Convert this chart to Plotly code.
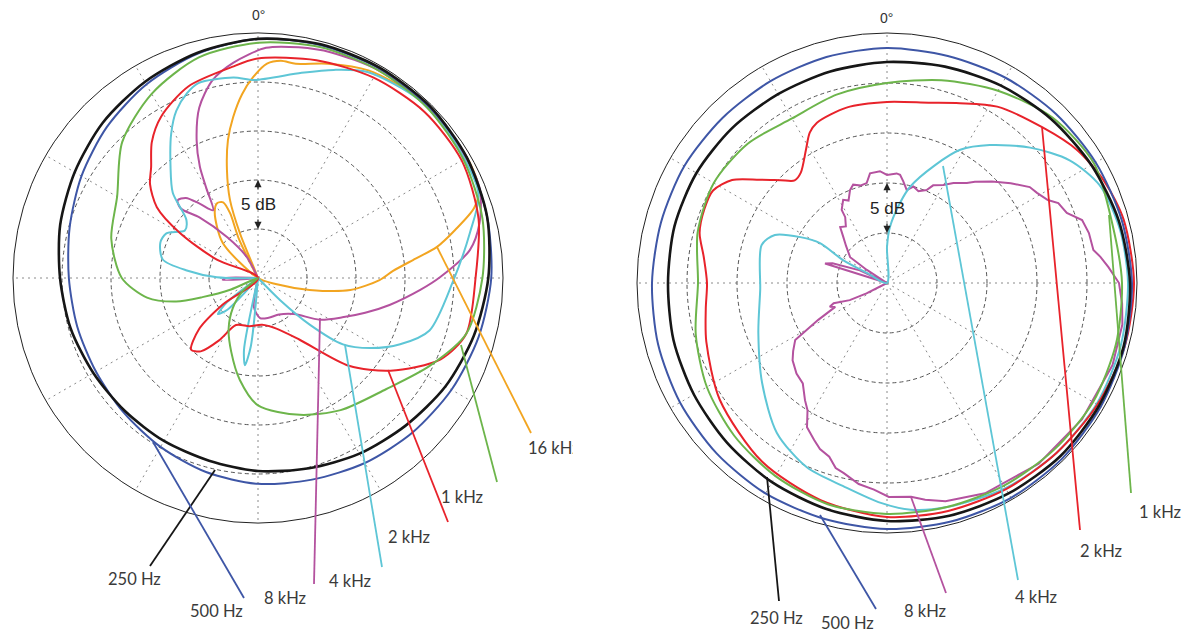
import plotly.graph_objects as go

W, H = 1201, 635

# ---------------------------------------------------------------------------
# Polar responses, in dB above the plot floor (outer ring = 25 dB, rings every 5 dB)
# ---------------------------------------------------------------------------
ANG15 = [0, 15, 30, 45, 60, 75, 90, 105, 120, 135, 150, 165,
         180, 195, 210, 225, 240, 255, 270, 285, 300, 315, 330, 345]

# --- left microphone ---
left_250_r = [24.4, 24.7, 24.8, 24.8, 24.6, 24.2, 23.5, 22.8, 22.1, 21.3, 20.7, 20.1,
              19.7, 19.3, 19.2, 19.2, 19.4, 19.8, 20.2, 20.9, 21.6, 22.4, 23.1, 23.8]
left_500_r = [24.4, 24.6, 24.7, 24.7, 24.6, 24.2, 23.8, 23.3, 22.8, 22.3, 21.8, 21.3,
              21.0, 20.5, 19.9, 19.4, 19.1, 19.1, 19.3, 19.9, 20.8, 21.8, 22.8, 23.7]

left_1k_theta = [240, 247, 251, 254, 260, 270, 285, 300, 315, 330, 345, 0, 15, 30, 45, 60,
                 75, 90, 105, 117, 131, 148, 163, 180, 190, 200, 210, 220, 230, 240]
left_1k_r = [0, 3.0, 6.0, 8.7, 11.5, 13.9, 15.5, 16.6, 19.6, 21.7, 23.3, 24.0, 24.4, 24.5, 24.5, 24.2,
             23.7, 22.9, 22.0, 19.7, 17.3, 15.9, 14.6, 13.0, 10.6, 8.0, 6.0, 4.0, 2.0, 0]

left_2k_theta = [290, 294, 300, 305, 311, 316, 322, 329, 340, 353, 0, 15, 30, 45, 60, 75, 90,
                 105, 114, 125, 134, 146, 160, 175, 190, 205, 212, 218, 223, 229, 233, 236]
left_2k_r = [0, 4.6, 9.2, 12.6, 14.6, 15.7, 17.6, 19.2, 20.8, 21.7, 22.4, 23.0, 23.6, 24.0, 24.0, 23.3, 22.2,
             22.0, 20.4, 16.5, 12.9, 7.6, 5.5, 4.8, 5.0, 5.3, 7.5, 9.5, 10.0, 8.0, 4.5, 0]

left_4k_theta = [268, 271, 276, 281, 290, 296, 303, 309, 315, 322, 329, 334, 339, 343, 353, 359,
                 12, 20, 28, 42, 55, 69, 78, 91, 107, 115, 122, 128, 132, 135, 137,
                 183, 186, 188.5, 191, 194, 221, 224, 228, 232, 235, 268]
left_4k_r = [0, 4.2, 7.3, 9.9, 10.6, 10.4, 8.9, 9.4, 12.3, 14.5, 17.2, 19.0, 20.2, 20.8, 20.6, 20.2,
             21.4, 22.6, 23.8, 24.5, 24.4, 24.1, 22.1, 19.9, 18.3, 16.0, 13.5, 11.0, 7.1, 3.2, 0,
             0, 7.0, 9.0, 7.5, 0, 0, 4.5, 5.5, 4.0, 0, 0]

left_8k_theta = [335, 332, 323, 316, 312, 314, 318, 322, 326.5, 330, 332.4, 336, 341, 347, 353.4,
                 2, 10, 18, 30, 45, 60, 68, 76, 82.5, 89.7, 94.2, 101.6, 108, 115, 124, 135,
                 150, 165, 177, 188, 195, 264, 267, 270, 272, 335]
left_8k_r = [0, 2.4, 5.2, 8.6, 10.6, 11.4, 11.0, 9.6, 8.3, 10.5, 12.8, 15.4, 18.4, 20.7, 22.1,
             23.5, 23.9, 24.2, 24.5, 24.6, 24.5, 24.4, 23.3, 21.8, 18.6, 16.6, 13.7, 11.5, 9.5, 7.6, 5.2,
             4.3, 4.2, 4.1, 3.0, 0, 0, 3.6, 3.3, 0, 0]

left_16k_theta = [306, 315, 326.5, 331.3, 335.3, 336.7, 334, 330, 338, 340.3, 344, 347.7, 351.2, 355,
                  358.6, 2.4, 6, 10, 18, 28, 40, 52, 62, 68, 72, 76.3, 80.2, 83, 87, 91, 97.4,
                  103, 109, 112]
left_16k_r = [0, 5.1, 8.0, 8.7, 8.5, 7.2, 4.5, 0, 4.9, 8.5, 11.5, 14.4, 16.6, 18.8,
              20.5, 21.9, 22.3, 22.2, 23.0, 24.0, 24.5, 24.6, 24.6, 24.3, 23.2, 20.7, 18.5, 16.2, 13.8, 12.4, 9.5,
              5.4, 1.9, 0]

# --- right microphone ---
right_250_r = [22.1, 22.4, 22.8, 23.2, 23.6, 24.0, 24.3, 24.5, 24.5, 24.5, 24.3, 24.1,
               23.8, 23.4, 23.0, 22.6, 22.3, 22.1, 21.9, 22.0, 22.0, 21.9, 21.8, 21.9]
right_500_r = [23.5, 23.5, 23.7, 23.9, 24.1, 24.3, 24.5, 24.6, 24.7, 24.8, 24.8, 24.7,
               24.6, 24.4, 24.3, 24.1, 23.9, 23.7, 23.5, 23.4, 23.4, 23.3, 23.3, 23.4]
right_1k_r = [20.0, 21.0, 22.2, 23.4, 23.9, 23.3, 23.5, 23.7, 23.8, 23.6, 23.4, 23.2,
              23.1, 22.9, 22.3, 21.6, 20.8, 19.8, 18.9, 19.6, 20.0, 19.7, 19.0, 19.5]

right_2k_theta = [0, 13, 22, 32, 45, 55, 65, 75, 90, 105, 120, 135, 150, 165, 180, 197, 215, 235,
                  252, 262, 270, 278, 285, 292, 298, 303.6, 309, 314, 318, 322, 328.7, 332.8,
                  336.4, 347, 360]
right_2k_r = [18.1, 18.5, 19.4, 20.8, 22.0, 23.2, 24.0, 24.5, 24.7, 24.6, 24.3, 24.0, 23.8, 23.6,
              23.4, 22.7, 21.8, 20.4, 19.0, 18.3, 18.0, 18.5, 19.4, 19.7, 19.7, 18.6, 16.4, 14.8,
              13.8, 14.0, 15.6, 16.9, 17.5, 18.0, 18.1]

right_4k_theta = [0, 0, 3, 9.2, 13.5, 22.1, 28.8, 36.7, 46.6, 56.1, 65.3, 77.2, 90, 105, 120, 135,
                  150, 165, 174, 181.6, 191.9, 203.5, 216.3, 231.3, 248.8, 266.8, 286.9, 293.2,
                  297.9, 300.8, 297.6, 296.6, 296]
right_4k_r = [0, 3.6, 5.6, 8.1, 9.9, 12.7, 15.2, 17.2, 19.7, 22.0, 23.4, 23.9, 24.1, 24.2, 24.2, 24.0,
              23.7, 23.2, 22.8, 22.0, 20.8, 20.1, 18.6, 16.0, 13.8, 12.7, 13.1, 12.2,
              9.8, 7.8, 5.0, 2.2, 0]

right_8k_theta = [284, 287.5, 290, 295, 300, 303, 305, 312, 316.7, 320.1, 324, 327.6, 328.2, 332.2,
                  335, 338.3, 341, 345, 348.5, 351.2, 356.4, 0, 5, 6.9, 9.1, 12, 15.3, 18.9, 23.1,
                  25.3, 29.9, 33.6, 38.6, 41, 46, 51.1, 56.1, 59, 62.7, 65, 68.7, 72.1, 76.1, 80.9,
                  83, 85.9, 90, 95, 100, 110, 125, 140, 155, 165, 170, 173.6, 179.5, 183.6, 188,
                  192.8, 195.5, 198.4, 202, 204.9, 209, 212, 215, 220, 225, 230.7, 234, 238.2,
                  241.8, 245.2, 247.4, 249.3, 245.3, 243, 240]
right_8k_r = [0, 6.5, 5.8, 3.0, 0, 2.4, 4.5, 5.5, 6.4, 7.3, 7.0, 7.8, 8.6, 9.4,
              9.1, 10.0, 10.4, 10.1, 10.2, 11.1, 11.2, 10.8, 11.0, 10.9, 10.3, 9.5, 10.0, 9.7, 10.1,
              10.8, 11.3, 12.0, 12.8, 13.4, 14.6, 15.9, 17.2, 17.5, 18.1, 18.9, 19.3, 20.5, 20.8, 20.9,
              21.5, 22.2, 23.2, 23.6, 23.9, 24.0, 23.8, 23.6, 23.2, 22.6, 22.0, 21.5, 21.4, 20.7, 20.3,
              19.5, 19.2, 18.3, 17.9, 17.3, 16.5, 15.0, 14.3, 13.1, 12.8, 12.2, 11.6, 10.8,
              7.8, 5.7, 6.2, 5.7, 4.1, 2.3, 0]

LEFT_LABELS = ["250 Hz", "500 Hz", "1 kHz", "2 kHz", "4 kHz", "8 kHz", "16 kHz"]
RIGHT_LABELS = ["250 Hz", "500 Hz", "1 kHz", "2 kHz", "4 kHz", "8 kHz"]

COLORS = {
    "250 Hz": "#161616",
    "500 Hz": "#3e56a6",
    "1 kHz": "#6db54b",
    "2 kHz": "#e8232b",
    "4 kHz": "#5ec6d6",
    "8 kHz": "#b4529f",
    "16 kHz": "#f2a521",
}


def closed(theta, r):
    return list(theta) + [theta[0]], list(r) + [r[0]]


left_series = {
    "16 kHz": (left_16k_theta, left_16k_r, "spline"),
    "8 kHz": (left_8k_theta, left_8k_r, "spline"),
    "4 kHz": (left_4k_theta, left_4k_r, "spline"),
    "2 kHz": (left_2k_theta, left_2k_r, "spline"),
    "1 kHz": (left_1k_theta, left_1k_r, "spline"),
    "500 Hz": closed(ANG15, left_500_r) + ("spline",),
    "250 Hz": closed(ANG15, left_250_r) + ("spline",),
}
right_series = {
    "8 kHz": (right_8k_theta, right_8k_r, "linear"),
    "4 kHz": (right_4k_theta, right_4k_r, "spline"),
    "2 kHz": (right_2k_theta, right_2k_r, "spline"),
    "1 kHz": closed(ANG15, right_1k_r) + ("spline",),
    "500 Hz": closed(ANG15, right_500_r) + ("spline",),
    "250 Hz": closed(ANG15, right_250_r) + ("spline",),
}

fig = go.Figure()

for subplot, series in (("polar", left_series), ("polar2", right_series)):
    for name, (th, rr, shape) in series.items():
        fig.add_trace(go.Scatterpolar(
            theta=th, r=rr, mode="lines", name=name, subplot=subplot,
            line=dict(color=COLORS[name], width=2.6 if name == "250 Hz" else 2.0,
                      shape=shape, smoothing=0.8),
            hoverinfo="skip", showlegend=False,
        ))


def px(x, y):
    """Pixel position on the page -> paper coordinates."""
    return x / W, 1 - y / H


def polar_layout(cx, cy, rad):
    x0, y1 = px(cx - rad, cy - rad)
    x1, y0 = px(cx + rad, cy + rad)
    return dict(
        domain=dict(x=[x0, x1], y=[y0, y1]),
        bgcolor="white",
        radialaxis=dict(range=[0, 25], tickvals=[5, 10, 15, 20], showticklabels=False,
                        ticks="", showline=False, gridcolor="#555", gridwidth=1,
                        griddash="4px,3px"),
        angularaxis=dict(rotation=90, direction="clockwise", tickmode="array",
                         tickvals=[0, 30, 60, 90, 120, 150, 180, 210, 240, 270, 300, 330],
                         showticklabels=False, ticks="",
                         showline=True, linecolor="#222", linewidth=1,
                         gridcolor="#8a8a8a", gridwidth=1, griddash="2px,4px"),
    )


fig.update_layout(
    width=W, height=H,
    margin=dict(l=0, r=0, t=0, b=0),
    paper_bgcolor="white",
    showlegend=False,
    polar=polar_layout(258, 278, 245),
    polar2=polar_layout(887, 283, 250),
)

# Leader lines: (start on curve) -> (end near label), label centre
LEFT_LEADERS = {
    "250 Hz": ((215, 470), (150, 566), (134, 579)),
    "500 Hz": ((153, 442), (244, 598), (216, 611)),
    "8 kHz": ((320, 318), (314, 584), (285, 598)),
    "4 kHz": ((345, 345), (382, 567), (350, 581)),
    "2 kHz": ((388, 370), (448, 522), (409, 537)),
    "1 kHz": ((461, 345), (497, 482), (462, 497)),
    "16 kHz": ((437, 247), (531, 433), (527, 448)),
}
RIGHT_LEADERS = {
    "250 Hz": ((767, 477), (779, 601), (776, 618)),
    "500 Hz": ((820, 515), (876, 609), (847, 623)),
    "8 kHz": ((911, 497), (946, 593), (925, 611)),
    "4 kHz": ((943, 166), (1018, 580), (1036, 597)),
    "2 kHz": ((1042, 127), (1080, 530), (1101, 551)),
    "1 kHz": ((1109, 215), (1131, 493), (1160, 512)),
}
LABEL_FONT = dict(family="Lato, Open Sans", size=16.5, color="#3a3a3a")

shapes = []
annotations = []
for labels, leaders in ((LEFT_LABELS, LEFT_LEADERS), (RIGHT_LABELS, RIGHT_LEADERS)):
    for name in labels:
        (sx, sy), (ex, ey), (tx, ty) = leaders[name]
        x0, y0 = px(sx, sy)
        x1, y1 = px(ex, ey)
        shapes.append(dict(type="line", xref="paper", yref="paper", x0=x0, y0=y0, x1=x1, y1=y1,
                           line=dict(color=COLORS[name], width=1.8)))
        lx, ly = px(tx, ty)
        label = dict(x=lx, y=ly, xref="paper", yref="paper", text=name, showarrow=False,
                     xanchor="center", yanchor="middle", font=LABEL_FONT)
        if name == "16 kHz":
            # this label runs into the edge of the panel and is cut there
            label.update(xanchor="left", width=45, align="left", borderpad=0)
        annotations.append(label)

# "0°" direction marks above each plot
for cx, cy in ((258, 15), (886, 18)):
    x, y = px(cx, cy)
    annotations.append(dict(x=x, y=y, xref="paper", yref="paper", text="0°", showarrow=False,
                            xanchor="center", yanchor="middle",
                            font=dict(family="Liberation Sans, Arial", size=14, color="#333")))

# "5 dB" scale marks between the first two rings
for cx, cy, step in ((258, 278, 49), (887, 283, 50)):
    tx, ty = px(cx, cy - 1.5 * step)
    annotations.append(dict(x=tx, y=ty, xref="paper", yref="paper", text="5 dB", showarrow=False,
                            xanchor="center", yanchor="middle",
                            font=dict(family="Liberation Sans, Arial", size=17, color="#222")))
    hx, hy = px(cx, cy - 2 * step)
    annotations.append(dict(x=hx, y=hy, xref="paper", yref="paper", text="", showarrow=True,
                            ax=0, ay=11, arrowhead=2, arrowsize=1.1, arrowwidth=1.3, arrowcolor="#222"))
    hx, hy = px(cx, cy - step)
    annotations.append(dict(x=hx, y=hy, xref="paper", yref="paper", text="", showarrow=True,
                            ax=0, ay=-11, arrowhead=2, arrowsize=1.1, arrowwidth=1.3, arrowcolor="#222"))

fig.update_layout(shapes=shapes, annotations=annotations)

fig.write_html("out.html")
